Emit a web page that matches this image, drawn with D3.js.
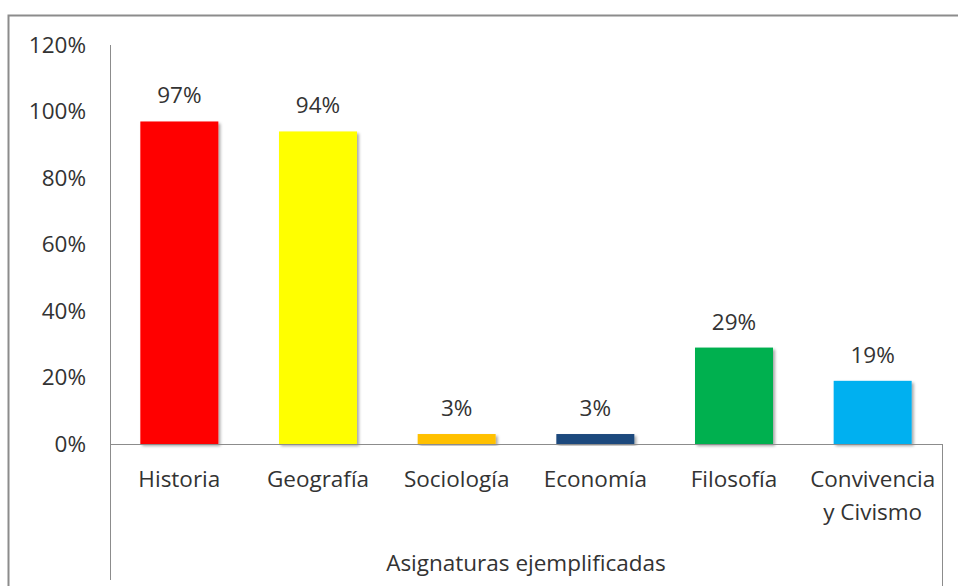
<!DOCTYPE html>
<html>
<head>
<meta charset="utf-8">
<script src="https://cdn.jsdelivr.net/npm/d3@7"></script>
<style>
  body { margin: 0; background: #fff; }
  text { font-family: "Open Sans", Lato, sans-serif; fill: #333; }
</style>
</head>
<body>
<svg id="chart" width="958" height="586"></svg>
<script>
// chart data
var categories = ['Historia', 'Geografía', 'Sociología', 'Economía', 'Filosofía', 'Convivencia\ny Civismo']
var values = [0.97, 0.94, 0.03, 0.03, 0.29, 0.19]
var barColors = ['#ff0000', '#ffff00', '#ffc000', '#1f497d', '#00b050', '#00b0f0']
var yTicks = [0, 0.2, 0.4, 0.6, 0.8, 1.0, 1.2]
var axisTitle = 'Asignaturas ejemplificadas'

var fontSize = '22.5px'

var svg = d3.select('#chart')

var plot = { left: 110, right: 942, top: 45, bottom: 444 }

// outer frame
svg.append('rect')
  .attr('x', 8.5).attr('y', 15.5)
  .attr('width', 960).attr('height', 600)
  .attr('fill', 'none')
  .attr('stroke', '#8c8c8c')
  .attr('stroke-width', 2)

var defs = svg.append('defs')
defs.append('filter').attr('id', 'shadow')
  .attr('x', '-10%').attr('y', '-10%').attr('width', '130%').attr('height', '130%')
  .append('feDropShadow')
  .attr('dx', 2).attr('dy', 2).attr('stdDeviation', 1.5)
  .attr('flood-color', '#000').attr('flood-opacity', 0.35)

var x = d3.scaleBand()
  .domain(categories)
  .range([plot.left, plot.right])
  .paddingInner(0.4375)
  .paddingOuter(0.21875)

var y = d3.scaleLinear()
  .domain([0, 1.2])
  .range([plot.bottom, plot.top])

// bars
svg.append('g').selectAll('rect')
  .data(values)
  .enter().append('rect')
  .attr('x', function (d, i) { return x(categories[i]) })
  .attr('y', function (d) { return y(d) })
  .attr('width', x.bandwidth())
  .attr('height', function (d) { return y(0) - y(d) })
  .attr('fill', function (d, i) { return barColors[i] })
  .attr('filter', 'url(#shadow)')

// data labels
svg.append('g').selectAll('text')
  .data(values)
  .enter().append('text')
  .attr('x', function (d, i) { return x(categories[i]) + x.bandwidth() / 2 })
  .attr('y', function (d) { return y(d) - 18 })
  .attr('text-anchor', 'middle')
  .style('font-size', fontSize)
  .text(function (d) { return Math.round(d * 100) + '%' })

// y axis
var yAxis = d3.axisLeft(y)
  .tickValues(yTicks)
  .tickSize(0)
  .tickPadding(24)
  .tickFormat(function (d) { return Math.round(d * 100) + '%' })

var yg = svg.append('g')
  .attr('transform', 'translate(' + plot.left + ',0)')
  .call(yAxis)
yg.select('.domain').remove()
yg.attr('font-family', null)
yg.selectAll('text')
  .style('font-size', fontSize)
  .style('fill', '#333')

// y axis line extends down through the category area
svg.append('line')
  .attr('x1', plot.left + 0.5).attr('x2', plot.left + 0.5)
  .attr('y1', plot.top).attr('y2', 580)
  .attr('stroke', '#8c8c8c')

// baseline
svg.append('line')
  .attr('x1', plot.left).attr('x2', plot.right)
  .attr('y1', plot.bottom + 0.5).attr('y2', plot.bottom + 0.5)
  .attr('stroke', '#8c8c8c')

// right boundary of the category axis
svg.append('line')
  .attr('x1', plot.right + 0.5).attr('x2', plot.right + 0.5)
  .attr('y1', plot.bottom).attr('y2', 586)
  .attr('stroke', '#8c8c8c')

// category labels
var catg = svg.append('g').selectAll('text')
  .data(categories)
  .enter().append('text')
  .attr('x', function (d) { return x(d) + x.bandwidth() / 2 })
  .attr('y', 487)
  .attr('text-anchor', 'middle')
  .style('font-size', fontSize)

catg.each(function (d) {
  var lines = d.split('\n')
  var t = d3.select(this)
  lines.forEach(function (line, i) {
    t.append('tspan')
      .attr('x', t.attr('x'))
      .attr('dy', i === 0 ? 0 : 33)
      .text(line)
  })
})

// axis title
svg.append('text')
  .attr('x', (plot.left + plot.right) / 2)
  .attr('y', 571)
  .attr('text-anchor', 'middle')
  .style('font-size', fontSize)
  .text(axisTitle)
</script>
</body>
</html>
